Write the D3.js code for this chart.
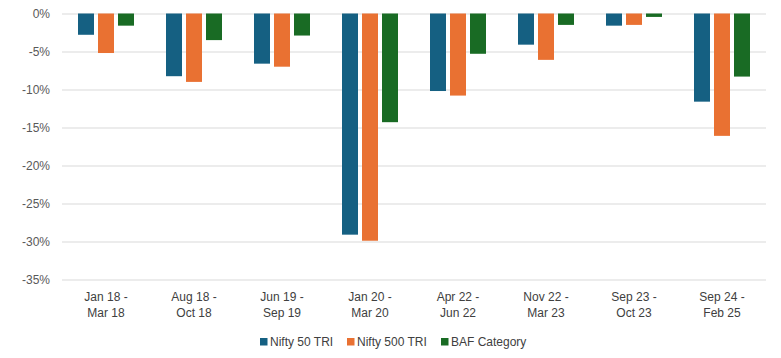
<!DOCTYPE html>
<html><head><meta charset="utf-8">
<script src="https://cdn.jsdelivr.net/npm/d3@7"></script>
<style>body{margin:0;background:#fff}svg{display:block}text{font-family:"Liberation Sans",Arial,sans-serif}</style>
</head><body><svg id="c" width="781" height="358"></svg>
<script>
const categories = [["Jan 18 -","Mar 18"],["Aug 18 -","Oct 18"],["Jun 19 -","Sep 19"],["Jan 20 -","Mar 20"],["Apr 22 -","Jun 22"],["Nov 22 -","Mar 23"],["Sep 23 -","Oct 23"],["Sep 24 -","Feb 25"]];
const seriesNames = ["Nifty 50 TRI","Nifty 500 TRI","BAF Category"];
const nifty50 = [-2.8,-8.25,-6.6,-29.1,-10.2,-4.1,-1.6,-11.6];
const nifty500 = [-5.2,-9.0,-7.0,-29.9,-10.8,-6.1,-1.5,-16.1];
const baf = [-1.6,-3.5,-2.9,-14.3,-5.3,-1.5,-0.45,-8.3];
const yTicks = [0,-5,-10,-15,-20,-25,-30,-35];
const colors = ["#156082","#E97132","#196B24"];
const seriesData = [nifty50, nifty500, baf];

const svg = d3.select("#c");
const catKeys = categories.map(c=>c.join(" "));
const x0 = d3.scaleBand().domain(catKeys).range([62,766]).padding(0);
const x1 = d3.scaleBand().domain(seriesNames).range([0,x0.bandwidth()]).paddingInner(0.2).paddingOuter(0.8);
const y = d3.scaleLinear().domain([-35,0]).range([279.5,13.5]);

const yAxis = d3.axisLeft(y).tickValues(yTicks).tickSize(-(766-62)).tickFormat(d=>d+"%");
const gy = svg.append("g").attr("transform","translate(62,0)").call(yAxis);
gy.select(".domain").remove();
gy.selectAll(".tick line").attr("stroke","#d9d9d9").attr("stroke-width",1);
gy.selectAll(".tick text").attr("x",-12).attr("font-size",12).style("font-family","'Liberation Sans',Arial,sans-serif").attr("fill","#595959");

const groups = svg.append("g").selectAll("g").data(catKeys).join("g")
  .attr("transform",d=>`translate(${x0(d)},0)`);
groups.selectAll("rect").data((d,i)=>seriesNames.map((s,j)=>({s,v:seriesData[j][i],j})))
  .join("rect")
  .attr("x",d=>x1(d.s)).attr("width",x1.bandwidth())
  .attr("y",y(0)).attr("height",d=>y(d.v)-y(0))
  .attr("fill",d=>colors[d.j]);

const xl = svg.append("g");
categories.forEach((c,i)=>{
  const cx = x0(catKeys[i])+x0.bandwidth()/2;
  const t = xl.append("text").attr("text-anchor","middle").attr("font-size",12).attr("fill","#404040");
  t.append("tspan").attr("x",cx).attr("y",301).text(c[0]);
  t.append("tspan").attr("x",cx).attr("y",317).text(c[1]);
});

const legX = [260,347,441];
const leg = svg.append("g");
seriesNames.forEach((s,i)=>{
  leg.append("rect").attr("x",legX[i]).attr("y",338).attr("width",7.5).attr("height",7.5).attr("fill",colors[i]);
  leg.append("text").attr("x",legX[i]+10).attr("y",346).attr("font-size",12).attr("fill","#404040").text(s);
});
</script></body></html>
